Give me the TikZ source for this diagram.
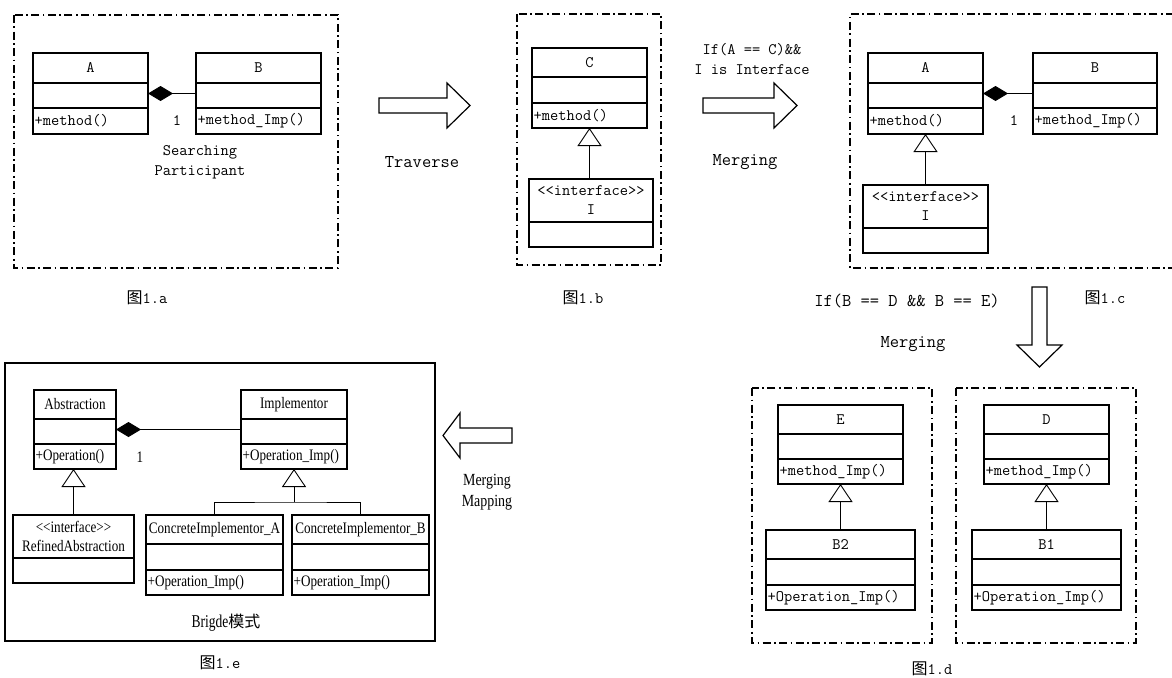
\documentclass[tikz,border=0pt]{standalone}
\usepackage{fontspec}
\usetikzlibrary{arrows.meta}
\newfontfamily\narfont[FakeStretch=0.82]{Liberation Serif}
\newfontfamily\cjk{Noto Sans CJK SC}
\newfontfamily\brfont[FakeStretch=0.75]{Liberation Serif}
\tikzset{
  clsbox/.style={draw, line width=1.2pt, inner sep=0pt, outer sep=0pt},
  clsline/.style={line width=1.2pt},
  clstxt/.style={inner sep=1.5pt},
  dd/.style={line width=2.6pt, dash pattern=on 8pt off 3.5pt on 1.6pt off 3.5pt},
  comp/.style={-{Diamond[length=25pt,width=15pt,fill=black]}, line width=0.8pt},
  inh/.style={-{Triangle[open,length=18pt,width=24pt,fill=white]}, line width=0.9pt},
  blk/.style={draw, line width=1.2pt, fill=white},
  lbl/.style={inner sep=0pt},
  big/.style={font=\ttfamily\fontsize{18}{21}\selectfont},
}
\newcommand\umlcls[9]{%
  \pgfmathsetmacro\uw{#4-#2}\pgfmathsetmacro\uh{#5-#3}%
  \node[clsbox, minimum width=\uw pt, minimum height=\uh pt] (#1) at ({(#2+#4)/2},{(#3+#5)/2}) {};
  \draw[clsline] (#2,#6) -- (#4,#6) (#2,#7) -- (#4,#7);
  \node[clstxt] (#1-t) at ({(#2+#4)/2},{(#3+#6)/2}) {#8};
  \node[clstxt, anchor=west] (#1-m) at (#2,{(#7+#5)/2}) {#9};
}
\newcommand\ifcls[7]{%
  \pgfmathsetmacro\uw{#4-#2}\pgfmathsetmacro\uh{#5-#3}%
  \node[clsbox, minimum width=\uw pt, minimum height=\uh pt] (#1) at ({(#2+#4)/2},{(#3+#5)/2}) {};
  \draw[clsline] (#2,#6) -- (#4,#6);
  \node[clstxt, align=center] (#1-t) at ({(#2+#4)/2},{(#3+#6)/2}) {<\kern0pt<interface>\kern0pt>\\#7};
}
\begin{document}
\begin{tikzpicture}[x=1pt, y=-1pt, font=\ttfamily\fontsize{16}{19}\selectfont]
\useasboundingbox (0,0) rectangle (1172,677);

% ---------- 1.a
\draw[dd] (14,15) rectangle (338,268);
\umlcls{aA}{33}{53}{148}{134}{83}{108}{A}{+method()}
\umlcls{aB}{196}{53}{321}{134}{83}{108}{B}{+method\_Imp()}
\draw[comp] (aB.west) -- (aA.east);
\node[lbl] (aone) at (177,121) {1};
\node[lbl, align=center, font=\ttfamily\fontsize{16}{20}\selectfont] (asp) at (200,162) {Searching\\Participant};
\node[lbl] (capa) at (147,298) {{\cjk 图}1.a};

% ---------- Traverse arrow
\draw[blk] (379,98) -- (447,98) -- (447,83) -- (470,105.5) -- (447,128) -- (447,113) -- (379,113) -- cycle;
\node[lbl, big] (trav) at (422,162) {Traverse};

% ---------- 1.b
\draw[dd] (517,14) rectangle (661,265);
\umlcls{bC}{532}{48}{647}{128}{77}{103}{C}{+method()}
\ifcls{bI}{529}{179}{653}{247}{222}{I}
\draw[inh] (bC.south |- bI.north) -- (bC.south);
\node[lbl] (capb) at (583,298) {{\cjk 图}1.b};

% ---------- Merging arrow 1
\node[lbl, align=center, font=\ttfamily\fontsize{16}{20}\selectfont] (cond1) at (752,59) {If(A == C)\&\&\\I is Interface};
\draw[blk] (703,98) -- (774,98) -- (774,83) -- (797,105.5) -- (774,128) -- (774,113) -- (703,113) -- cycle;
\node[lbl, big] (merg1) at (745,162) {Merging};

% ---------- 1.c
\draw[dd] (1174,14) -- (850,14) -- (850,268) -- (1174,268);
\umlcls{cA}{868}{53}{983}{134}{83}{108}{A}{+method()}
\umlcls{cB}{1033}{53}{1157}{134}{83}{108}{B}{+method\_Imp()}
\draw[comp] (cB.west) -- (cA.east);
\node[lbl] (cone) at (1014,121) {1};
\ifcls{cI}{863}{185}{988}{253}{228}{I}
\draw[inh] (cI.north) -- (cA.south);
\node[lbl] (capc) at (1105,298) {{\cjk 图}1.c};

% ---------- down arrow
\node[lbl, big] (cond2) at (907,301) {If(B == D \&\& B == E)};
\draw[blk] (1032,287) -- (1047,287) -- (1047,345) -- (1062,345) -- (1039.5,367) -- (1017,345) -- (1032,345) -- cycle;
\node[lbl, big] (merg2) at (913,344) {Merging};

% ---------- 1.d
\draw[dd] (752,388) rectangle (932,643);
\draw[dd] (956,388) rectangle (1136,643);
\umlcls{dE}{778}{405}{903}{484}{434}{459}{E}{+method\_Imp()}
\umlcls{dBt}{766}{530}{915}{610}{559}{585}{B2}{+Operation\_Imp()}
\draw[inh] (dBt.north) -- (dE.south);
\umlcls{dD}{984}{405}{1109}{484}{434}{459}{D}{+method\_Imp()}
\umlcls{dBo}{972}{530}{1121}{610}{559}{585}{B1}{+Operation\_Imp()}
\draw[inh] (dBo.north) -- (dD.south);
\node[lbl] (capd) at (932,669) {{\cjk 图}1.d};

% ---------- left arrow
\draw[blk] (512,428) -- (460,428) -- (460,413) -- (443,435.5) -- (460,458) -- (460,443) -- (512,443) -- cycle;
\node[lbl, align=center, font=\narfont\fontsize{17}{21}\selectfont] (mm) at (487,492.5) {Merging\\Mapping};

% ---------- 1.e
\draw[line width=1.2pt] (5,363) rectangle (435,641);
\begin{scope}[font=\narfont\fontsize{16}{19}\selectfont]
\umlcls{eAbs}{34}{390}{116}{469}{419}{444}{Abstraction}{+Operation()}
\umlcls{eImp}{241}{390}{347}{469}{419}{444}{Implementor}{+Operation\_Imp()}
\draw[comp] (eImp.west) -- (eAbs.east);
\node[lbl] (eone) at (140,457) {1};
\ifcls{eRA}{13}{515}{134}{583}{558}{RefinedAbstraction}
\draw[inh] (eRA.north) -- (eRA.north |- eAbs.south);
\umlcls{eCA}{146}{515}{283}{595}{544}{570}{ConcreteImplementor\_A}{+Operation\_Imp()}
\umlcls{eCB}{292}{515}{429}{595}{544}{570}{ConcreteImplementor\_B}{+Operation\_Imp()}
\coordinate (ejn) at (294,502);
\draw[inh] (ejn) -- (eImp.south);
\draw[line width=0.9pt] (eCA.north) |- (ejn) -| (eCB.north);
\end{scope}
\node[lbl] (brg) at (226,623) {\brfont\fontsize{18}{20}\selectfont Brigde{\cjk\fontsize{16}{20}\selectfont 模式}};
\node[lbl] (cape) at (220,663) {{\cjk 图}1.e};
\end{tikzpicture}
\end{document}
